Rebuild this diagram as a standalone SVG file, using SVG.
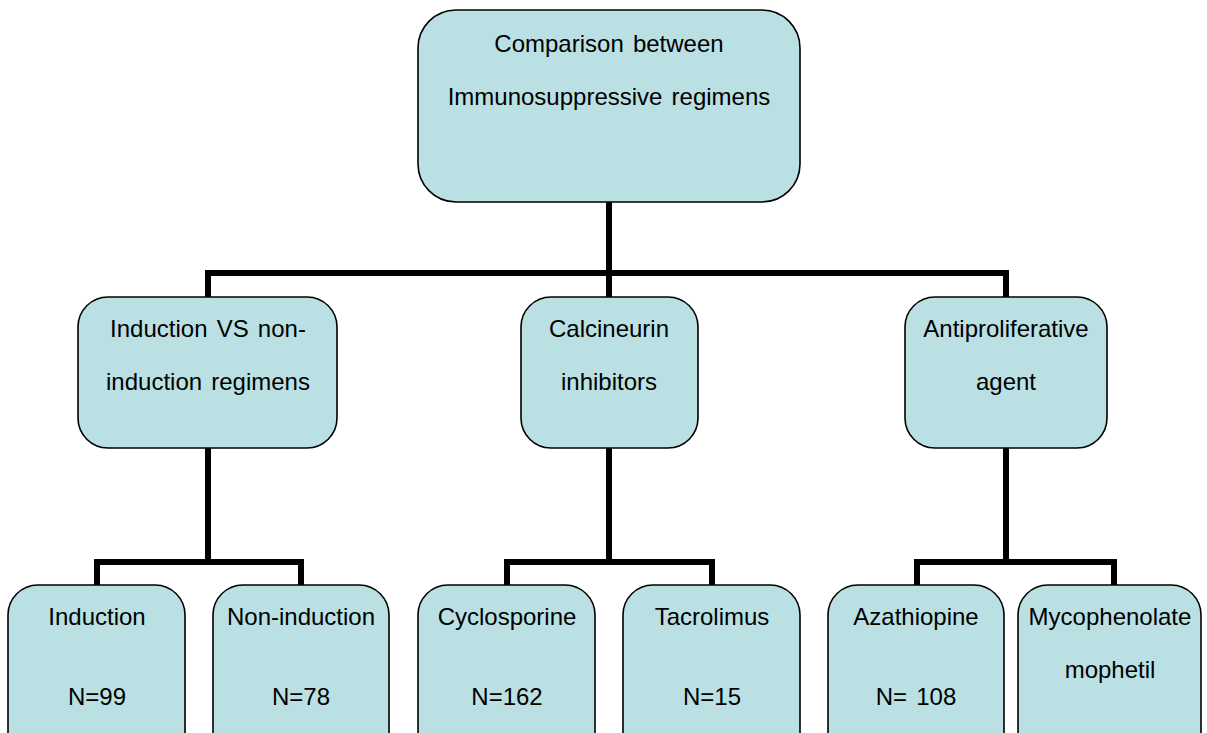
<svg xmlns="http://www.w3.org/2000/svg" width="1207" height="733" viewBox="0 0 1207 733">
<style>
.box{fill:#BAE0E4;stroke:#000;stroke-width:1.6}
.t{font-family:"Liberation Sans",Arial,sans-serif;font-size:24px;fill:#000;text-anchor:middle;word-spacing:2.5px}
.c{fill:none;stroke:#000;stroke-width:6;stroke-linecap:square;stroke-linejoin:miter}
</style>
<rect width="1207" height="733" fill="#fff"/>
<g id="connectors">
<path class="c" d="M609,203 V296 M208,273 H1006 M208,273 V296 M1006,273 V296"/>
<path class="c" d="M208,449 V562 M97,562 H301 M97,562 V584 M301,562 V584"/>
<path class="c" d="M609,449 V562 M507,562 H712 M507,562 V584 M712,562 V584"/>
<path class="c" d="M1006,449 V562 M917,562 H1114 M917,562 V584 M1114,562 V584"/>
</g>
<g id="root">
<rect class="box" x="418" y="10" width="382" height="192" rx="38"/>
<text class="t" x="609" y="52">Comparison between</text>
<text class="t" x="609" y="105">Immunosuppressive regimens</text>
</g>
<g id="induction-vs">
<rect class="box" x="78" y="297" width="259" height="151" rx="30"/>
<text class="t" x="208" y="337">Induction VS non-</text>
<text class="t" x="208" y="390">induction regimens</text>
</g>
<g id="calcineurin">
<rect class="box" x="521" y="297" width="177" height="151" rx="30"/>
<text class="t" x="609" y="337">Calcineurin</text>
<text class="t" x="609" y="390">inhibitors</text>
</g>
<g id="antiproliferative">
<rect class="box" x="905" y="297" width="202" height="151" rx="30"/>
<text class="t" x="1006" y="337">Antiproliferative</text>
<text class="t" x="1006" y="390">agent</text>
</g>
<g id="induction">
<rect class="box" x="8" y="585" width="177" height="180" rx="30"/>
<text class="t" x="97" y="625">Induction</text>
<text class="t" x="97" y="705">N=99</text>
</g>
<g id="non-induction">
<rect class="box" x="213" y="585" width="176" height="180" rx="30"/>
<text class="t" x="301" y="625">Non-induction</text>
<text class="t" x="301" y="705">N=78</text>
</g>
<g id="cyclosporine">
<rect class="box" x="418" y="585" width="177" height="180" rx="30"/>
<text class="t" x="507" y="625">Cyclosporine</text>
<text class="t" x="507" y="705">N=162</text>
</g>
<g id="tacrolimus">
<rect class="box" x="623" y="585" width="177" height="180" rx="30"/>
<text class="t" x="712" y="625">Tacrolimus</text>
<text class="t" x="712" y="705">N=15</text>
</g>
<g id="azathiopine">
<rect class="box" x="828" y="585" width="176" height="180" rx="30"/>
<text class="t" x="916" y="625">Azathiopine</text>
<text class="t" x="916" y="705">N= 108</text>
</g>
<g id="mycophenolate">
<rect class="box" x="1018" y="585" width="183" height="180" rx="30"/>
<text class="t" x="1110" y="625">Mycophenolate</text>
<text class="t" x="1110" y="678">mophetil</text>
</g>
</svg>
